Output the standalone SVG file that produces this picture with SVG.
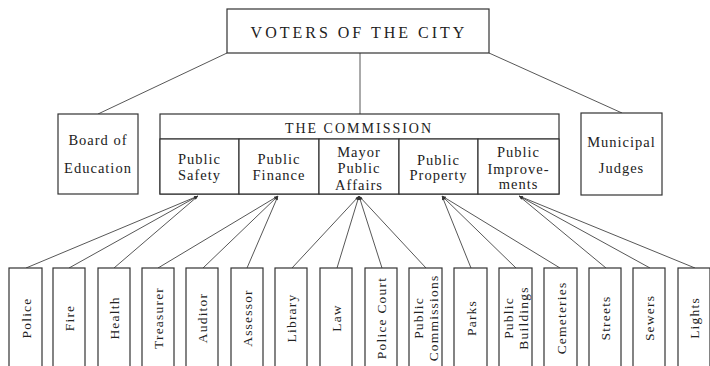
<svg xmlns="http://www.w3.org/2000/svg" width="710" height="366" viewBox="0 0 710 366" font-family="'Liberation Serif', 'DejaVu Serif', serif">
<defs>
<style>
.box{fill:#fff;stroke:#333;stroke-width:1.2}
.ln{stroke:#444;stroke-width:0.9;fill:none}
text{font-family:'Liberation Serif','DejaVu Serif',serif;fill:#222;text-anchor:middle}
.t1{font-size:16px;letter-spacing:3px}
.t2{font-size:14px;letter-spacing:2px}
.t3{font-size:14.5px;letter-spacing:1px}
.t4{font-size:13.5px;letter-spacing:1.2px}
</style>
<marker id="ah" viewBox="0 0 8 6" refX="8" refY="3" markerWidth="5" markerHeight="3" markerUnits="userSpaceOnUse" orient="auto">
<path d="M0,0 L8,3 L0,6 Z" fill="#333"/>
</marker>
</defs>
<rect width="710" height="366" fill="#fff"/>

<g id="connectors">
<line class="ln" x1="360" y1="53" x2="360" y2="114"/>
<line class="ln" x1="227" y1="53" x2="98" y2="114"/>
<line class="ln" x1="489" y1="53" x2="622" y2="113"/>
<g marker-end="url(#ah)">
<line class="ln" x1="26" y1="268" x2="198" y2="196"/>
<line class="ln" x1="69" y1="268" x2="198" y2="196"/>
<line class="ln" x1="114" y1="268" x2="198" y2="196"/>
<line class="ln" x1="158" y1="268" x2="278" y2="196"/>
<line class="ln" x1="203" y1="268" x2="278" y2="196"/>
<line class="ln" x1="247" y1="268" x2="278" y2="196"/>
<line class="ln" x1="292" y1="268" x2="359" y2="196"/>
<line class="ln" x1="337" y1="268" x2="359" y2="196"/>
<line class="ln" x1="382" y1="268" x2="359" y2="196"/>
<line class="ln" x1="426" y1="268" x2="359" y2="196"/>
<line class="ln" x1="471" y1="268" x2="442" y2="196"/>
<line class="ln" x1="516" y1="268" x2="442" y2="196"/>
<line class="ln" x1="560" y1="268" x2="442" y2="196"/>
<line class="ln" x1="606" y1="268" x2="519" y2="196"/>
<line class="ln" x1="650" y1="268" x2="519" y2="196"/>
<line class="ln" x1="695" y1="268" x2="519" y2="196"/>
</g>
</g>

<g id="voters">
<rect class="box" x="227" y="9" width="262" height="44"/>
<text class="t1" x="359" y="38">VOTERS OF THE CITY</text>
</g>

<g id="board">
<rect class="box" x="58" y="114" width="80" height="80"/>
<text class="t3" x="98" y="145">Board of</text>
<text class="t3" x="98" y="173">Education</text>
</g>

<g id="judges">
<rect class="box" x="581" y="113" width="81" height="82"/>
<text class="t3" x="621.5" y="147">Municipal</text>
<text class="t3" x="621.5" y="173">Judges</text>
</g>

<g id="commission">
<rect class="box" x="160" y="114" width="399" height="80"/>
<line class="box" x1="160" y1="139" x2="559" y2="139"/>
<text class="t2" x="359" y="133">THE COMMISSION</text>
</g>
<g id="public-safety">
<rect class="box" x="160" y="139" width="79" height="55"/>
<text class="t3" x="199.5" y="164">Public</text>
<text class="t3" x="199.5" y="180">Safety</text>
</g>
<g id="public-finance">
<rect class="box" x="239" y="139" width="80" height="55"/>
<text class="t3" x="279" y="164">Public</text>
<text class="t3" x="279" y="180">Finance</text>
</g>
<g id="mayor">
<rect class="box" x="319" y="139" width="80" height="55"/>
<text class="t3" x="359" y="157">Mayor</text>
<text class="t3" x="359" y="173">Public</text>
<text class="t3" x="359" y="190">Affairs</text>
</g>
<g id="public-property">
<rect class="box" x="399" y="139" width="79" height="55"/>
<text class="t3" x="438.5" y="165">Public</text>
<text class="t3" x="438.5" y="180">Property</text>
</g>
<g id="public-improvements">
<rect class="box" x="478" y="139" width="81" height="55"/>
<text class="t3" x="518.5" y="157">Public</text>
<text class="t3" x="518.5" y="174">Improve-</text>
<text class="t3" x="518.5" y="189">ments</text>
</g>

<g id="police"><rect class="box" x="9" y="268" width="33" height="110"/><text class="t4" transform="translate(25.5,318) rotate(-90)" y="5">Police</text></g>
<g id="fire"><rect class="box" x="53" y="268" width="32" height="110"/><text class="t4" transform="translate(69,318) rotate(-90)" y="5">Fire</text></g>
<g id="health"><rect class="box" x="98" y="268" width="32" height="110"/><text class="t4" transform="translate(114,318) rotate(-90)" y="5">Health</text></g>
<g id="treasurer"><rect class="box" x="142" y="268" width="32" height="110"/><text class="t4" transform="translate(158,318) rotate(-90)" y="5">Treasurer</text></g>
<g id="auditor"><rect class="box" x="186" y="268" width="32" height="110"/><text class="t4" transform="translate(202,318) rotate(-90)" y="5">Auditor</text></g>
<g id="assessor"><rect class="box" x="231" y="268" width="32" height="110"/><text class="t4" transform="translate(247,318) rotate(-90)" y="5">Assessor</text></g>
<g id="library"><rect class="box" x="275" y="268" width="32" height="110"/><text class="t4" transform="translate(291,318) rotate(-90)" y="5">Library</text></g>
<g id="law"><rect class="box" x="320" y="268" width="32" height="110"/><text class="t4" transform="translate(336,318) rotate(-90)" y="5">Law</text></g>
<g id="police-court"><rect class="box" x="365" y="268" width="32" height="110"/><text class="t4" transform="translate(381,318) rotate(-90)" y="5">Police Court</text></g>
<g id="public-commissions"><rect class="box" x="409" y="268" width="33" height="110"/><text class="t4" transform="translate(425.5,318) rotate(-90)"><tspan x="0" y="-3">Public</tspan><tspan x="0" y="12">Commissions</tspan></text></g>
<g id="parks"><rect class="box" x="454" y="268" width="33" height="110"/><text class="t4" transform="translate(470.5,318) rotate(-90)" y="5">Parks</text></g>
<g id="public-buildings"><rect class="box" x="499" y="268" width="33" height="110"/><text class="t4" transform="translate(515.5,318) rotate(-90)"><tspan x="0" y="-3">Public</tspan><tspan x="0" y="12">Buildings</tspan></text></g>
<g id="cemeteries"><rect class="box" x="544" y="268" width="33" height="110"/><text class="t4" transform="translate(560.5,318) rotate(-90)" y="5">Cemeteries</text></g>
<g id="streets"><rect class="box" x="589" y="268" width="32" height="110"/><text class="t4" transform="translate(605,318) rotate(-90)" y="5">Streets</text></g>
<g id="sewers"><rect class="box" x="633" y="268" width="32" height="110"/><text class="t4" transform="translate(649,318) rotate(-90)" y="5">Sewers</text></g>
<g id="lights"><rect class="box" x="678" y="268" width="32" height="110"/><text class="t4" transform="translate(694,318) rotate(-90)" y="5">Lights</text></g>
</svg>
